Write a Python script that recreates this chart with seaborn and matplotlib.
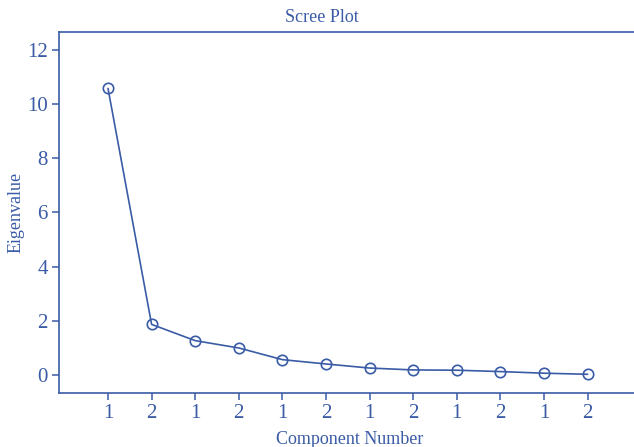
import matplotlib
matplotlib.use("Agg")
import matplotlib.pyplot as plt
import seaborn as sns
import pandas as pd

components = [1, 2, 3, 4, 5, 6, 7, 8, 9, 10, 11, 12]
eigenvalues = [10.57, 1.87, 1.27, 1.0, 0.57, 0.41, 0.26, 0.19, 0.18, 0.13, 0.07, 0.03]
tick_labels = ["1", "2", "1", "2", "1", "2", "1", "2", "1", "2", "1", "2"]
y_ticks = [0, 2, 4, 6, 8, 10, 12]

df = pd.DataFrame({"Component": components, "Eigenvalue": eigenvalues})

sns.set_style("white")
plt.rcParams["font.family"] = ["Liberation Serif", "DejaVu Serif"]

col = "#3a5ba6"
W, H = 634, 447
ax_left, ax_right = 59, 640
fig = plt.figure(figsize=(W / 100, H / 100), dpi=100)
ax = fig.add_axes([ax_left / W, 1 - 393 / H, (ax_right - ax_left) / W, (393 - 32) / H])

sns.lineplot(data=df, x="Component", y="Eigenvalue", ax=ax, color=col,
             linewidth=1.2, marker="o", markersize=7.5,
             markerfacecolor="none", markeredgecolor=col, markeredgewidth=1.2)

ax.set_xlim(1 - 49 / 43.6, 1 + (ax_right - 108) / 43.6)
ax.set_ylim(-0.66, 12.65)
ax.set_xticks(components)
ax.set_xticklabels(tick_labels)
ax.set_yticks(y_ticks)

for s in ["left", "bottom", "top"]:
    ax.spines[s].set_color(col)
    ax.spines[s].set_linewidth(1.2)
ax.spines["right"].set_visible(False)

ax.tick_params(axis="both", direction="out", length=5, width=1.1, color=col,
               labelcolor=col, labelsize=15, left=True, bottom=True, pad=3)

ax.set_xlabel("Component Number", color=col, fontsize=13, labelpad=6)
ax.set_ylabel("Eigenvalue", color=col, fontsize=13, va="center")
ax.yaxis.set_label_coords((16 - ax_left) / (ax_right - ax_left), 0.5)
fig.text(322 / W, 1 - 17 / H, "Scree Plot", color=col, fontsize=13,
         ha="center", va="center")

fig.savefig("out.png", dpi=100)
